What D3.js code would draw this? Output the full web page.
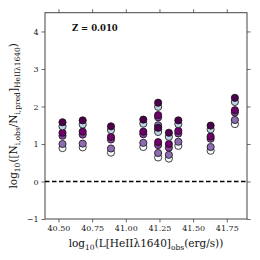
<!DOCTYPE html>
<html>
<head>
<meta charset="utf-8">
<script src="https://cdn.jsdelivr.net/npm/d3@7"></script>
<style>
  body { margin: 0; background: #fff; }
  svg text { font-family: "DejaVu Serif", "Liberation Serif", serif; }
</style>
</head>
<body>
<svg id="chart" width="260" height="260"></svg>
<script>
// x positions of the stacks: log10 L[HeII 1640]_obs
var xVals = [40.53, 40.68, 40.89, 41.13, 41.24, 41.24, 41.32, 41.39, 41.63, 41.81];

// one array per model, top of each stack first
var s1 = [1.58, 1.63, 1.47, 1.65, 2.10, 1.43, 1.30, 1.63, 1.49, 2.23];
var s2 = [1.47, 1.52, 1.37, 1.54, 1.99, 1.32, 1.19, 1.53, 1.39, 2.12];
var s3 = [1.30, 1.33, 1.19, 1.33, 1.77, 1.05, 1.00, 1.35, 1.20, 1.90];
var s4 = [1.22, 1.25, 1.12, 1.26, 1.71, 0.97, 0.90, 1.28, 1.14, 1.84];
var s5 = [1.00, 1.01, 0.88, 1.03, 1.50, 0.76, 0.71, 1.06, 0.92, 1.64];
var s6 = [0.89, 0.91, 0.77, 0.92, 1.39, 0.64, 0.61, 0.95, 0.82, 1.53];

var seriesList = [s6, s5, s4, s3, s2, s1];   // drawn bottom-up
var seriesColors = ["#f7fcfd", "#8c6bb1", "#88419d", "#6e016b", "#bfd3e6", "#4d004b"];

var xTicks = [40.50, 40.75, 41.00, 41.25, 41.50, 41.75];
var yTicks = [-1, 0, 1, 2, 3, 4];

var margin = {left: 45, right: 13, top: 12.7, bottom: 41};
var W = 260, H = 260;
var svg = d3.select("#chart");

var x = d3.scaleLinear().domain([40.4, 41.9]).range([margin.left, W - margin.right]);
var y = d3.scaleLinear().domain([-1, 4.5]).range([H - margin.bottom, margin.top]);

// axes
var axCol = "#444";
function styleAxis(g) {
  g.select(".domain").remove();
  g.selectAll(".tick line").attr("stroke", axCol).attr("stroke-width", 0.8);
  g.selectAll(".tick text").attr("font-size", 8).attr("fill", "#222")
    .style("font-family", "'DejaVu Serif', serif");
}

svg.append("g").attr("transform", "translate(0," + y.range()[0] + ")")
  .call(d3.axisBottom(x).tickValues(xTicks).tickFormat(d3.format(".2f")).tickSize(3.5).tickPadding(3))
  .call(styleAxis);
svg.append("g").attr("transform", "translate(0," + y.range()[1] + ")")
  .call(d3.axisTop(x).tickValues(xTicks).tickFormat("").tickSize(3.5))
  .call(styleAxis);
svg.append("g").attr("transform", "translate(" + x.range()[0] + ",0)")
  .call(d3.axisLeft(y).tickValues(yTicks).tickFormat(d3.format("d")).tickSize(3.5).tickPadding(3))
  .call(styleAxis);
svg.append("g").attr("transform", "translate(" + x.range()[1] + ",0)")
  .call(d3.axisRight(y).tickValues(yTicks).tickFormat("").tickSize(3.5))
  .call(styleAxis);

svg.append("rect")
  .attr("x", x.range()[0]).attr("y", y.range()[1])
  .attr("width", x.range()[1] - x.range()[0])
  .attr("height", y.range()[0] - y.range()[1])
  .attr("fill", "none").attr("stroke", axCol).attr("stroke-width", 1);

// zero line
svg.append("line")
  .attr("x1", x.range()[0]).attr("x2", x.range()[1])
  .attr("y1", y(0)).attr("y2", y(0))
  .attr("stroke", "#000").attr("stroke-width", 1.5)
  .attr("stroke-dasharray", "4.5,2.5");

// points
seriesList.forEach(function (vals, k) {
  svg.append("g").selectAll("circle")
    .data(vals).enter().append("circle")
    .attr("cx", function (d, i) { return x(xVals[i]); })
    .attr("cy", function (d) { return y(d); })
    .attr("r", 3.6)
    .attr("fill", seriesColors[k])
    .attr("stroke", "#111").attr("stroke-width", 0.8);
});

// annotation
svg.append("text").attr("x", x(40.6)).attr("y", y(4.02))
  .attr("font-size", 8.5).attr("font-weight", "bold").attr("fill", "#111")
  .text("Z = 0.010");

// x label
var xl = svg.append("text").attr("x", (x.range()[0] + x.range()[1]) / 2).attr("y", 247)
  .attr("text-anchor", "middle").attr("font-size", 10.5).attr("fill", "#111");
xl.append("tspan").text("log");
xl.append("tspan").attr("font-size", 7.5).attr("dy", 3).text("10");
xl.append("tspan").attr("dy", -3).text("(L[HeII\u03bb1640]");
xl.append("tspan").attr("font-size", 7.5).attr("dy", 3).text("obs");
xl.append("tspan").attr("dy", -3).text("(erg/s))");

// y label
var yl = svg.append("text")
  .attr("transform", "translate(17," + ((y.range()[0] + y.range()[1]) / 2) + ") rotate(-90)")
  .attr("text-anchor", "middle").attr("font-size", 10.5).attr("fill", "#111");
yl.append("tspan").text("log");
yl.append("tspan").attr("font-size", 7.5).attr("dy", 3).text("10");
yl.append("tspan").attr("dy", -3).text("([N");
yl.append("tspan").attr("font-size", 7.5).attr("dy", 3).text("i,obs");
yl.append("tspan").attr("dy", -3).text("/N");
yl.append("tspan").attr("font-size", 7.5).attr("dy", 3).text("i,pred");
yl.append("tspan").attr("dy", -3).text("]");
yl.append("tspan").attr("font-size", 7.5).attr("dy", 3).text("HeII\u03bb1640");
yl.append("tspan").attr("dy", -3).text(")");
</script>
</body>
</html>
